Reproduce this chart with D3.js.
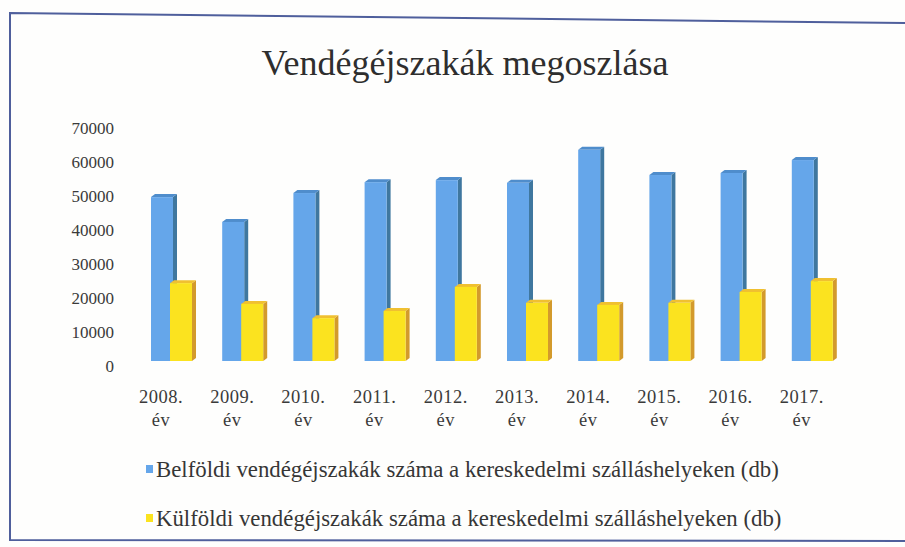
<!DOCTYPE html>
<html>
<head>
<meta charset="utf-8">
<script src="https://cdn.jsdelivr.net/npm/d3@7"></script>
<style>
  html, body { margin: 0; padding: 0; background: #fefefd; }
  svg { display: block; }
  text { font-family: "Liberation Serif", "Times New Roman", serif; fill: #363636; }
</style>
</head>
<body>
<svg id="chart" width="905" height="547"></svg>
<script>
// Vendégéjszakák a kereskedelmi szálláshelyeken, évenként
const years = ["2008.", "2009.", "2010.", "2011.", "2012.", "2013.", "2014.", "2015.", "2016.", "2017."];
const belfoldi = [48200, 40900, 49400, 52600, 53200, 52400, 62100, 54700, 55300, 59100];
const kulfoldi = [22900, 16800, 12600, 14700, 21800, 17100, 16500, 17100, 20300, 23500];
const seriesNames = [
  "Belföldi vendégéjszakák száma a kereskedelmi szálláshelyeken (db)",
  "Külföldi vendégéjszakák száma a kereskedelmi szálláshelyeken (db)"
];
const yTicks = [0, 10000, 20000, 30000, 40000, 50000, 60000, 70000];

const serif = "'Liberation Serif', 'Times New Roman', serif";
const svg = d3.select("#chart");

// Keret
svg.append("path")
  .attr("d", "M905,23 L10,13 L10,540 L905,541")
  .attr("fill", "none")
  .attr("stroke", "#4f5f9c")
  .attr("stroke-width", 2);

// Cím
svg.append("text")
  .attr("x", 465).attr("y", 75)
  .attr("text-anchor", "middle")
  .style("font-size", "36px")
  .style("fill", "#2e2e2e")
  .text("Vendégéjszakák megoszlása");

const y = d3.scaleLinear().domain([0, 70000]).range([361, 123]);
const x = d3.scaleBand().domain(years).range([125.4, 837.4]).padding(0);
const keys = ["belfoldi", "kulfoldi"];
const xs = d3.scaleBand().domain(keys).range([-10, 28]);

// Függőleges tengely
const yAxis = svg.append("g")
  .attr("transform", "translate(114,5)")
  .call(d3.axisLeft(y).tickValues(yTicks).tickSize(0).tickPadding(0).tickFormat(d3.format("d")))
  .attr("font-family", serif)
  .attr("font-size", 17);
yAxis.select(".domain").remove();
yAxis.selectAll("text")
  .style("font-family", serif)
  .style("fill", "#3a3a3a");

// Vízszintes tengely, kétsoros feliratokkal
const xAxis = svg.append("g")
  .attr("transform", "translate(0,386)")
  .call(d3.axisBottom(x).tickSize(0).tickPadding(0))
  .attr("font-family", serif)
  .attr("font-size", 18.5);
xAxis.select(".domain").remove();
xAxis.selectAll("text").each(function (d) {
  const t = d3.select(this);
  t.text(null)
    .attr("y", 0)
    .attr("dy", null)
    .style("font-family", serif)
    .style("letter-spacing", "0.5px")
    .style("fill", "#3a3a3a");
  t.append("tspan").attr("x", 0).attr("dy", "0.9em").text(d);
  t.append("tspan").attr("x", 0).attr("dy", "1.25em").text("év");
});

// Térhatású oszlopok
const colors = {
  belfoldi: { front: "#65a6ea", side: "#3f779f", top: "#4f8dcc" },
  kulfoldi: { front: "#fbe31f", side: "#d39a2c", top: "#f0c030" }
};
const depthX = 4, depthY = 3;
const frontW = xs.bandwidth() + 3;

const rows = years.map((yr, i) => ({ yr, belfoldi: belfoldi[i], kulfoldi: kulfoldi[i] }));

const groups = svg.append("g").selectAll("g")
  .data(rows)
  .join("g")
  .attr("transform", d => `translate(${x(d.yr) + x.bandwidth() / 2},0)`);

keys.forEach(k => {
  const c = colors[k];
  const bar = groups.append("g");
  // oldallap
  bar.append("path")
    .attr("fill", c.side)
    .attr("d", d => {
      const x0 = xs(k) + frontW, yt = y(d[k]), yb = y(0);
      return `M${x0},${yt} L${x0 + depthX},${yt - depthY} L${x0 + depthX},${yb - depthY} L${x0},${yb} Z`;
    });
  // fedolap
  bar.append("path")
    .attr("fill", c.top)
    .attr("d", d => {
      const x0 = xs(k), yt = y(d[k]);
      return `M${x0},${yt} L${x0 + depthX},${yt - depthY} L${x0 + frontW + depthX},${yt - depthY} L${x0 + frontW},${yt} Z`;
    });
  // eloelap
  bar.append("rect")
    .attr("x", xs(k))
    .attr("y", d => y(d[k]))
    .attr("width", frontW)
    .attr("height", d => y(0) - y(d[k]))
    .attr("fill", c.front);
});

// Jelmagyarázat
const legend = svg.append("g").selectAll("g")
  .data(keys)
  .join("g")
  .attr("transform", (d, i) => `translate(146,${469 + i * 49})`);
legend.append("rect")
  .attr("x", 0).attr("y", -4)
  .attr("width", 7).attr("height", 8)
  .attr("fill", d => colors[d].front);
legend.append("text")
  .attr("x", 10).attr("y", 0).attr("dy", "0.35em")
  .style("font-size", "22.8px")
  .text((d, i) => seriesNames[i]);
</script>
</body>
</html>
